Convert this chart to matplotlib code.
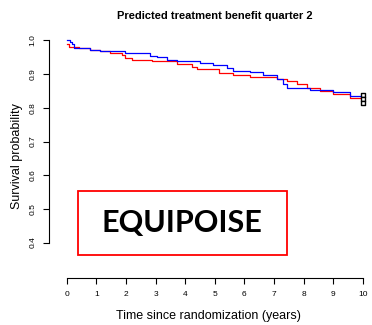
import numpy as np
import matplotlib
matplotlib.use('Agg')
import matplotlib.pyplot as plt
from matplotlib.patches import Rectangle

plt.rcParams['font.family'] = 'Liberation Sans'

# Kaplan-Meier style step curves
blue_t = [0, 0.11, 0.17, 0.25, 0.79, 1.13, 1.97, 2.82, 3.04, 3.38, 3.72, 4.50,
          4.95, 5.41, 5.63, 6.19, 6.64, 7.09, 7.32, 7.43, 8.22, 9.01, 9.57, 10.0]
blue_s = [1.0, 0.994, 0.989, 0.977, 0.973, 0.970, 0.964, 0.955, 0.950, 0.943,
          0.939, 0.932, 0.926, 0.917, 0.910, 0.905, 0.897, 0.885, 0.870, 0.860,
          0.854, 0.847, 0.835, 0.833]
red_t = [0, 0.06, 0.40, 0.79, 1.13, 1.46, 1.86, 1.97, 2.20, 2.88, 3.72, 4.22,
         4.39, 5.13, 5.63, 6.19, 6.76, 7.09, 7.43, 7.77, 8.11, 8.56, 9.01, 9.57, 10.0]
red_s = [0.99, 0.981, 0.977, 0.973, 0.969, 0.963, 0.956, 0.949, 0.941, 0.939,
         0.929, 0.921, 0.914, 0.902, 0.897, 0.892, 0.890, 0.885, 0.880, 0.871,
         0.860, 0.850, 0.842, 0.830, 0.828]
censor_t = [10, 10, 10]
censor_s = [0.838, 0.826, 0.814]

xticks = np.arange(0, 11, 1)
yticks = [0.4, 0.5, 0.6, 0.7, 0.8, 0.9, 1.0]

W, H = 372, 325
fig = plt.figure(figsize=(W / 100, H / 100), dpi=100)

# axes box in pixels: left spine x=49, bottom spine y=278
x0, x1 = -0.6, 10.2
y0, y1 = 0.295, 1.02
left_px, bottom_px = 49, 278
px_per_x = 29.6
px_per_y = 337.0
right_px = left_px + (x1 - x0) * px_per_x
top_px = bottom_px - (y1 - y0) * px_per_y
ax = fig.add_axes([left_px / W, 1 - bottom_px / H,
                   (right_px - left_px) / W, (bottom_px - top_px) / H])
ax.set_xlim(x0, x1)
ax.set_ylim(y0, y1)

ax.plot(red_t, red_s, drawstyle='steps-post', color='red', lw=0.9)
ax.plot(blue_t, blue_s, drawstyle='steps-post', color='blue', lw=0.9)
ax.scatter(censor_t, censor_s, marker='s', s=9, facecolor='white',
           edgecolor='black', linewidth=1.0, zorder=5)

for s in ('top', 'right'):
    ax.spines[s].set_visible(False)
ax.spines['left'].set_bounds(0.4, 1.0)
ax.spines['bottom'].set_bounds(0, 10)
ax.spines['left'].set_linewidth(0.8)
ax.spines['bottom'].set_linewidth(0.8)

ax.set_xticks(xticks)
ax.set_xticklabels([str(v) for v in xticks])
ax.set_yticks(yticks)
ax.set_yticklabels([f'{v:.1f}' for v in yticks], rotation=90, va='center')
ax.tick_params(axis='both', labelsize=6, length=4, width=0.8, pad=5)

ax.set_xlabel('Time since randomization (years)', fontsize=9, labelpad=9)
ax.set_ylabel('Survival probability', fontsize=9, labelpad=5)

ax.text(5.0, 1.072, 'Predicted treatment benefit quarter 2',
        ha='center', va='center', fontsize=8, fontweight='bold', clip_on=False)

ax.add_patch(Rectangle((0.38, 0.363), 7.07, 0.191, fill=False,
                       edgecolor='red', linewidth=1.3))
ax.text(3.9, 0.458, 'EQUIPOISE', ha='center', va='center',
        fontsize=22, fontweight='bold', family='Lato')

fig.savefig('out.png', dpi=100)
